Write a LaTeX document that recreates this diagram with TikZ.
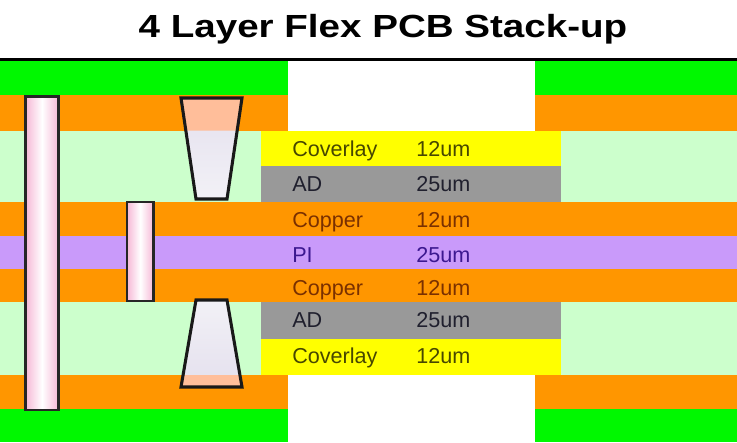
\documentclass[tikz,border=0pt]{standalone}
\usepackage{fontspec}
\setmainfont{Liberation Sans}
\newfontfamily\titlefont[FakeStretch=1.205]{Liberation Sans}
\definecolor{solder}{HTML}{00F800}
\definecolor{copper}{HTML}{FF9600}
\definecolor{paleglue}{HTML}{CCFFCC}
\definecolor{polyimide}{HTML}{C99AFA}
\definecolor{coverlay}{HTML}{FFFF00}
\definecolor{adhesive}{HTML}{999999}
\definecolor{viapink}{HTML}{F6B8D6}
\definecolor{viapale}{HTML}{F2F1F6}
\definecolor{viamauve}{HTML}{E4E0EE}
\definecolor{viasalmon}{HTML}{FFBE9A}
\definecolor{inkcover}{HTML}{474700}
\definecolor{inkad}{HTML}{20202E}
\definecolor{inkcopper}{HTML}{7A3000}
\definecolor{inkpi}{HTML}{3C1890}
\begin{document}
\begin{tikzpicture}[
  x=0.75pt, y=-0.75pt,
  layername/.style={anchor=base west, inner sep=0pt, font=\fontsize{16.2}{18}\selectfont},
  via/.style={draw=black!85, line width=1.6pt, left color=viapink, right color=viapink, middle color=white},
  microvia/.style={draw=black!90, line width=2.3pt, line join=miter},
]
\useasboundingbox (0,0) rectangle (737,442);
\fill[white] (0,0) rectangle (737,442);

% --- Title ---
\node[anchor=base, inner sep=0pt, font=\titlefont\fontsize{24}{28}\selectfont\bfseries] (title) at (383,38) {4 Layer Flex PCB Stack-up};
\fill[black] (0,58) rectangle (737,61);

% --- Rigid sections, left and right ---
\foreach \xa/\xb in {0/288, 535/737} {
  \fill[solder] (\xa,61) rectangle (\xb,95.5);
  \fill[copper] (\xa,95.5) rectangle (\xb,130.5);
  \fill[copper] (\xa,375) rectangle (\xb,409);
  \fill[solder] (\xa,409) rectangle (\xb,442);
}
\fill[paleglue] (0,130.5) rectangle (261,202);
\fill[paleglue] (0,302) rectangle (261,375);
\fill[paleglue] (561,130.5) rectangle (737,202);
\fill[paleglue] (561,302) rectangle (737,375);

% --- Flex core, full width ---
\fill[copper] (0,202) rectangle (737,235.5);
\fill[polyimide] (0,235.5) rectangle (737,268.5);
\fill[copper] (0,268.5) rectangle (737,302);

% --- Flex outer layers ---
\fill[coverlay] (261,130.5) rectangle (561,165.5);
\fill[adhesive] (261,165.5) rectangle (561,202);
\fill[adhesive] (261,302) rectangle (561,338.5);
\fill[coverlay] (261,338.5) rectangle (561,375);

% --- Layer labels ---
\foreach \nm/\yy/\lab/\val/\col in {
  coverA/156/Coverlay/12um/inkcover,
  adA/191/AD/25um/inkad,
  copperA/227/Copper/12um/inkcopper,
  piA/262/PI/25um/inkpi,
  copperB/295/Copper/12um/inkcopper,
  adB/327/AD/25um/inkad,
  coverB/363/Coverlay/12um/inkcover} {
  \node[layername, text=\col] (\nm) at (292,\yy) {\lab};
  \node[layername, text=\col] (\nm val) at (416,\yy) {\val};
}

% --- Through via and buried via ---
\draw[via] (25.5,96.5) rectangle (58.5,410);
\draw[via] (127,202) rectangle (153.5,301);

% --- Microvias, lighter where they cross copper ---
\fill[top color=viamauve, bottom color=viapale] (181,98) -- (242,98) -- (227,199) -- (196,199) -- cycle;
\fill[viasalmon] (181,98) -- (242,98) -- (237.2,130.5) -- (185.8,130.5) -- cycle;
\draw[microvia] (181,98) -- (242,98) -- (227,199) -- (196,199) -- cycle;
\fill[top color=viapale, bottom color=viamauve] (196,300) -- (227,300) -- (242,387) -- (181,387) -- cycle;
\fill[viasalmon] (183,375) -- (240,375) -- (242,387) -- (181,387) -- cycle;
\draw[microvia] (196,300) -- (227,300) -- (242,387) -- (181,387) -- cycle;

\end{tikzpicture}
\end{document}
